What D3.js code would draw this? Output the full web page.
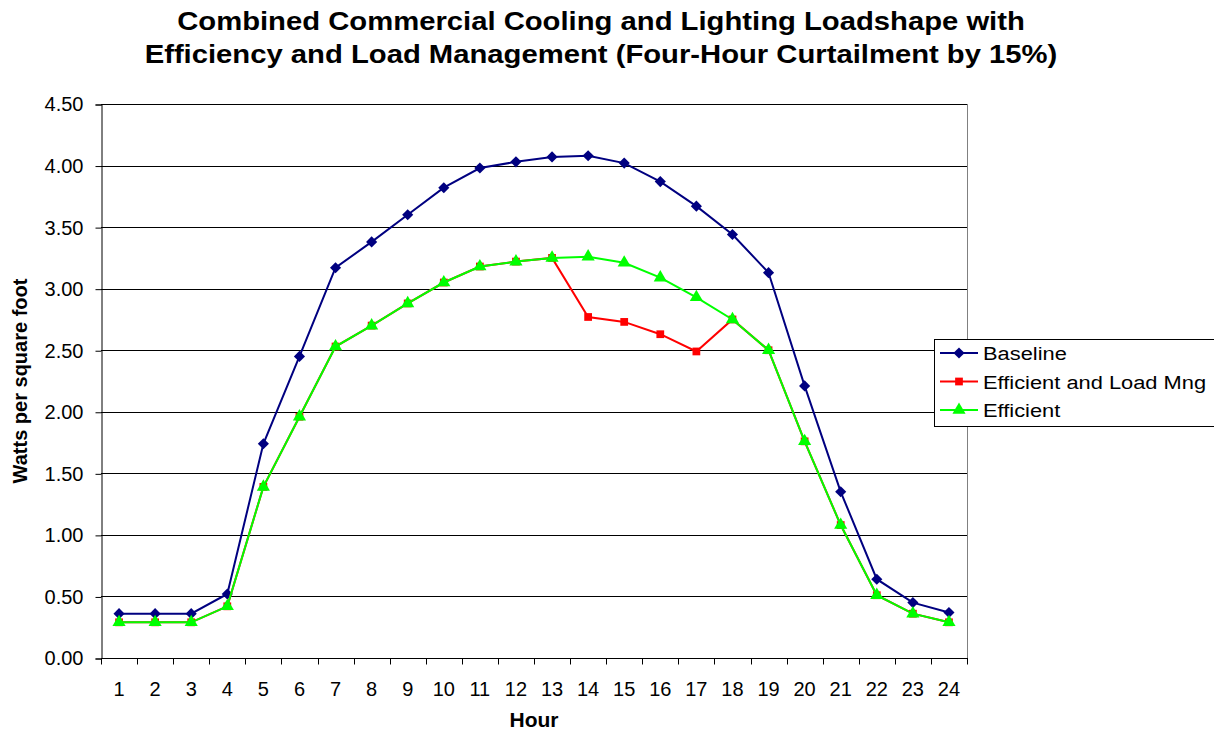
<!DOCTYPE html>
<html>
<head>
<meta charset="utf-8">
<script src="https://d3js.org/d3.v7.min.js"></script>
<style>
body { margin: 0; background: #fff; }
text { font-family: "Liberation Sans", Arial, sans-serif; }
</style>
</head>
<body>
<svg id="chart" width="1214" height="732"></svg>
<script>
// data
var hours = d3.range(1, 25);
var baseline = [0.36, 0.36, 0.36, 0.52, 1.74, 2.45, 3.17, 3.38, 3.60, 3.82, 3.98, 4.03,
                4.07, 4.08, 4.02, 3.87, 3.67, 3.44, 3.13, 2.21, 1.35, 0.64, 0.45, 0.37];
var effLoadMng = [0.29, 0.29, 0.29, 0.42, 1.39, 1.96, 2.53, 2.70, 2.88, 3.05, 3.18, 3.22,
                  3.25, 2.77, 2.73, 2.63, 2.49, 2.75, 2.50, 1.76, 1.08, 0.51, 0.36, 0.29];
var efficient = [0.29, 0.29, 0.29, 0.42, 1.39, 1.96, 2.53, 2.70, 2.88, 3.05, 3.18, 3.22,
                 3.25, 3.26, 3.21, 3.09, 2.93, 2.75, 2.50, 1.76, 1.08, 0.51, 0.36, 0.29];
var yTicks = [0, 0.5, 1, 1.5, 2, 2.5, 3, 3.5, 4, 4.5];

var series = [
    { name: "Baseline", values: baseline, color: "#000080", marker: "diamond" },
    { name: "Efficient and Load Mng", values: effLoadMng, color: "#ff0000", marker: "square" },
    { name: "Efficient", values: efficient, color: "#00ff00", marker: "triangle" }
];

var svg = d3.select("#chart");
// plot area edges
var pLeft = 101, pRight = 967, pTop = 104, pBottom = 658;

var x = d3.scaleBand().domain(hours).range([pLeft, pRight]);
var y = d3.scaleLinear().domain([0, 4.5]).range([pBottom, pTop]);

// gridlines
svg.append("g").selectAll("line").data(yTicks.slice(1)).enter().append("line")
    .attr("x1", pLeft).attr("x2", pRight)
    .attr("y1", function (d) { return Math.round(y(d)) + 0.5; })
    .attr("y2", function (d) { return Math.round(y(d)) + 0.5; })
    .attr("stroke", "#000").attr("stroke-width", 1);

// plot area right border
svg.append("line").attr("x1", pRight + 0.5).attr("x2", pRight + 0.5)
    .attr("y1", pTop).attr("y2", pBottom).attr("stroke", "#808080");

// y axis
var yAxis = d3.axisLeft(y).tickValues(yTicks).tickFormat(d3.format(".2f"))
    .tickSizeOuter(0).tickSize(6).tickPadding(12);
var gy = svg.append("g").attr("transform", "translate(" + (pLeft + 0.5) + ",0.5)").call(yAxis);
gy.selectAll("text").style("font-size", "20px").attr("fill", "#000");
gy.selectAll("line, path").attr("stroke", "#000");

// x axis: ticks between categories
var gx = svg.append("g").attr("transform", "translate(0," + (pBottom + 0.5) + ")");
gx.append("line").attr("x1", pLeft).attr("x2", pRight + 1).attr("stroke", "#000");
gx.selectAll("line.tick").data(hours.concat([25])).enter().append("line")
    .attr("class", "tick")
    .attr("x1", function (d) { return Math.round(d <= 24 ? x(d) : pRight) + 0.5; })
    .attr("x2", function (d) { return Math.round(d <= 24 ? x(d) : pRight) + 0.5; })
    .attr("y1", 0).attr("y2", 6).attr("stroke", "#000");
gx.selectAll("text").data(hours).enter().append("text")
    .attr("x", function (d) { return x(d) + x.bandwidth() / 2; })
    .attr("y", 37)
    .attr("text-anchor", "middle")
    .style("font-size", "20px")
    .text(function (d) { return d; });

// lines and markers
var line = d3.line()
    .x(function (d, i) { return x(hours[i]) + x.bandwidth() / 2; })
    .y(function (d) { return y(d); });

// diamond = square turned 45 degrees, as Excel draws it
var symbolType = { diamond: d3.symbolSquare, square: d3.symbolSquare, triangle: d3.symbolTriangle };
var symbolSize = { diamond: 62, square: 60, triangle: 75 };
var symbolRot = { diamond: 45, square: 0, triangle: 0 };

series.forEach(function (s) {
    svg.append("path").datum(s.values)
        .attr("d", line)
        .attr("fill", "none")
        .attr("stroke", s.color)
        .attr("stroke-width", 2);
    svg.append("g").selectAll("path").data(s.values).enter().append("path")
        .attr("d", d3.symbol().type(symbolType[s.marker]).size(symbolSize[s.marker]))
        .attr("transform", function (d, i) {
            return "translate(" + (x(hours[i]) + x.bandwidth() / 2) + "," + y(d) + ") rotate(" + symbolRot[s.marker] + ")";
        })
        .attr("fill", s.color);
});

// title (the original text is a bit wide, so stretch it horizontally)
var titleLines = ["Combined Commercial Cooling and Lighting Loadshape with",
                  "Efficiency and Load Management (Four-Hour Curtailment by 15%)"];
titleLines.forEach(function (t, i) {
    svg.append("text")
        .attr("transform", "translate(601," + (30 + i * 33) + ") scale(1.17,1)")
        .attr("text-anchor", "middle")
        .style("font-size", "25px").style("font-weight", "bold")
        .text(t);
});

// axis titles
svg.append("text").attr("x", 534).attr("y", 727).attr("text-anchor", "middle")
    .style("font-size", "21px").style("font-weight", "bold").text("Hour");
svg.append("text").attr("transform", "translate(27," + ((pTop + pBottom) / 2) + ") rotate(-90)")
    .attr("text-anchor", "middle")
    .style("font-size", "20px").style("font-weight", "bold").text("Watts per square foot");

// legend
var lg = svg.append("g").attr("transform", "translate(934,339)");
lg.append("rect").attr("x", 0.5).attr("y", 0.5).attr("width", 290).attr("height", 87)
    .attr("fill", "#fff").attr("stroke", "#000");
series.forEach(function (s, i) {
    var ly = 14 + i * 28.5;
    lg.append("line").attr("x1", 6).attr("x2", 44).attr("y1", ly).attr("y2", ly)
        .attr("stroke", s.color).attr("stroke-width", 2);
    lg.append("path")
        .attr("d", d3.symbol().type(symbolType[s.marker]).size(symbolSize[s.marker]))
        .attr("transform", "translate(25," + ly + ") rotate(" + symbolRot[s.marker] + ")")
        .attr("fill", s.color);
    lg.append("text").attr("transform", "translate(49," + (ly + 7) + ") scale(1.15,1)")
        .style("font-size", "19px").text(s.name);
});
</script>
</body>
</html>
